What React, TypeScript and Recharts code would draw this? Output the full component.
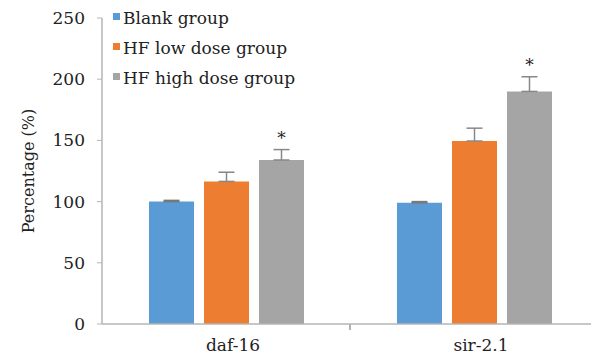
import { BarChart, Bar, XAxis, YAxis, ErrorBar, LabelList, Legend, Label, ReferenceLine } from "recharts";

const genes = ["daf-16", "sir-2.1"];
const seriesNames = ["Blank group", "HF low dose group", "HF high dose group"];
const blank = [100, 99];
const lowDose = [116.5, 149.5];
const highDose = [134, 190];
const blankErr = [1, 1];
const lowErr = [7.5, 10.5];
const highErr = [8.5, 12];
const marks = ["*", "*"];
const yTicks = [0, 50, 100, 150, 200, 250];

const data = genes.map((g, i) => ({
  name: g,
  blank: blank[i],
  low: lowDose[i],
  high: highDose[i],
  blankErr: [0, blankErr[i]],
  lowErr: [0, lowErr[i]],
  highErr: [0, highErr[i]],
  mark: marks[i],
}));

const serif = "DejaVu Serif";
const fs = 17;
const tickStyle = { fill: "#222", fontSize: fs, fontFamily: serif };

const renderLegend = (props: any) => {
  const items = [...(props.payload || [])].sort(
    (a: any, b: any) => seriesNames.indexOf(a.value) - seriesNames.indexOf(b.value)
  );
  return (
    <div style={{ fontFamily: serif, fontSize: fs, color: "#222" }}>
      {items.map((p: any) => (
        <div key={p.value} style={{ display: "flex", alignItems: "center", height: 30, whiteSpace: "nowrap" }}>
          <span style={{ width: 7, height: 7, background: p.color, marginRight: 3, marginTop: -4 }} />
          {p.value}
        </div>
      ))}
    </div>
  );
};

export default function App() {
  return (
    <div style={{ position: "absolute", left: 0, top: 0, width: 591, height: 358, overflow: "hidden", background: "#fff", fontFamily: serif }}>
      <BarChart
        width={600}
        height={358}
        data={data}
        margin={{ top: 18, right: 2, left: 0, bottom: 0 }}
        barCategoryGap={47}
        barGap={10}
        style={{ fontFamily: serif }}
      >
        <XAxis
          dataKey="name"
          height={34}
          tick={{ ...tickStyle, dx: 7 }}
          tickLine={false}
          tickMargin={9}
          axisLine={{ stroke: "#b5b5b5", strokeWidth: 1.5 }}
        />
        <YAxis
          width={102}
          domain={[0, 250]}
          ticks={yTicks}
          tick={tickStyle}
          tickSize={5}
          tickMargin={12}
          tickLine={{ stroke: "#b5b5b5" }}
          axisLine={{ stroke: "#b5b5b5", strokeWidth: 1.5 }}
        >
          <Label
            value="Percentage (%)"
            angle={-90}
            position="insideLeft"
            offset={28}
            style={{ fill: "#222", fontSize: 16, fontFamily: serif, textAnchor: "middle" }}
          />
        </YAxis>
        <ReferenceLine
          segment={[{ x: genes[0], y: 0 }, { x: genes[1], y: 0 }]}
          stroke="none"
          ifOverflow="visible"
          label={(p: any) => {
            const vb = p.viewBox;
            const mid = vb.x + vb.width / 2;
            return <line x1={mid} x2={mid} y1={vb.y} y2={vb.y + 6} stroke="#999" strokeWidth={1.5} />;
          }}
        />
        <Legend
          layout="vertical"
          align="center"
          verticalAlign="middle"
          content={renderLegend}
          wrapperStyle={{ left: 113, top: 3, width: 260 }}
        />
        <Bar dataKey="blank" name={seriesNames[0]} fill="#5B9BD5" isAnimationActive={false}>
          <ErrorBar dataKey="blankErr" width={8} stroke="#777" strokeWidth={1.5} direction="y" />
        </Bar>
        <Bar dataKey="low" name={seriesNames[1]} fill="#ED7D31" isAnimationActive={false}>
          <ErrorBar dataKey="lowErr" width={8} stroke="#888" strokeWidth={1.5} direction="y" />
        </Bar>
        <Bar dataKey="high" name={seriesNames[2]} fill="#A5A5A5" isAnimationActive={false}>
          <ErrorBar dataKey="highErr" width={8} stroke="#888" strokeWidth={1.5} direction="y" />
          <LabelList
            dataKey="mark"
            content={(p: any) => {
              const i = p.index;
              const top = p.y - highErr[i] * 1.226;
              return (
                <text x={p.x + p.width / 2} y={top - 6} textAnchor="middle" fontSize={fs} fontFamily={serif} fill="#222">
                  {p.value}
                </text>
              );
            }}
          />
        </Bar>
      </BarChart>
    </div>
  );
}
